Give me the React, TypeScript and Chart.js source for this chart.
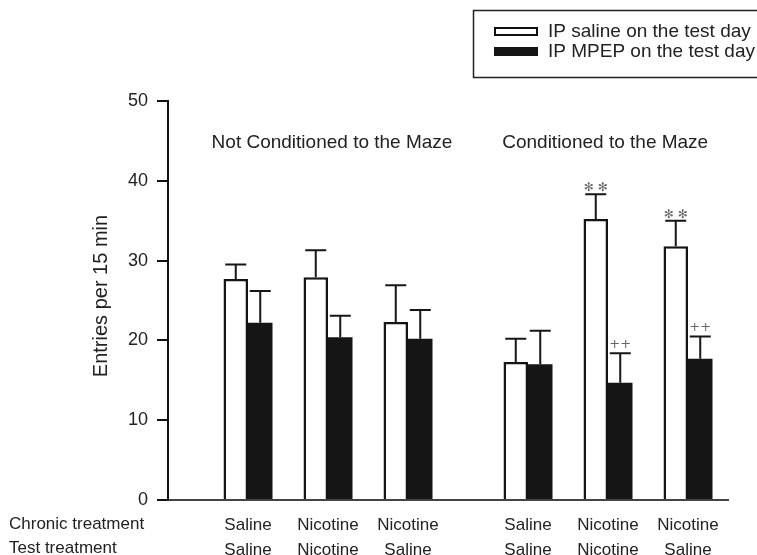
import { useEffect, useRef } from 'react';
import { Chart, registerables } from 'chart.js';

Chart.register(...registerables);

// ---- data ----
const slotCount = 15;
const groupSlots = [2, 4, 6, 9, 11, 13];
const chronicTreatment = ['Saline', 'Nicotine', 'Nicotine', 'Saline', 'Nicotine', 'Nicotine'];
const testTreatment = ['Saline', 'Nicotine', 'Saline', 'Saline', 'Nicotine', 'Saline'];
const salineMeans = [27.7, 27.9, 22.3, 17.3, 35.2, 31.8];
const salineSem = [1.8, 3.4, 4.6, 2.9, 3.1, 3.2];
const mpepMeans = [22.2, 20.4, 20.2, 17.0, 14.7, 17.7];
const mpepSem = [4.0, 2.7, 3.6, 4.2, 3.7, 2.8];
const salineMarks = ['', '', '', '', '**', '**'];
const mpepMarks = ['', '', '', '', '++', '++'];
const seriesNames = ['IP saline on the test day', 'IP MPEP on the test day'];
const panelTitles = ['Not Conditioned to the Maze', 'Conditioned to the Maze'];
const panelTitleSlots = [4.1, 10.93];
const rowTitles = ['Chronic treatment', 'Test treatment'];
const yTitle = 'Entries per 15 min';
const yTicks = { min: 0, max: 50, step: 10 };

const FONT = '"Liberation Sans", Arial, Helvetica, sans-serif';

function spread(values: number[]): (number | null)[] {
  const out: (number | null)[] = Array(slotCount).fill(null);
  groupSlots.forEach((s, i) => { out[s] = values[i]; });
  return out;
}

const labels = Array.from({ length: slotCount }, (_, i) => {
  const g = groupSlots.indexOf(i);
  return g >= 0 ? [chronicTreatment[g], testTreatment[g]] : '';
});

const overlayPlugin = {
  id: 'overlay',
  afterDatasetsDraw(chart: any) {
    const ctx: CanvasRenderingContext2D = chart.ctx;
    const xs = chart.scales.x;
    const ys = chart.scales.y;
    const sets = [
      { means: salineMeans, sem: salineSem, marks: salineMarks },
      { means: mpepMeans, sem: mpepSem, marks: mpepMarks },
    ];
    ctx.save();
    sets.forEach((s, d) => {
      const meta = chart.getDatasetMeta(d);
      groupSlots.forEach((slot, g) => {
        const el = meta.data[slot];
        if (!el) return;
        const x = el.x;
        const yBar = ys.getPixelForValue(s.means[g]);
        const yTop = ys.getPixelForValue(s.means[g] + s.sem[g]);
        ctx.strokeStyle = '#161616';
        ctx.lineWidth = 2;
        ctx.beginPath();
        ctx.moveTo(x, yBar);
        ctx.lineTo(x, yTop);
        ctx.moveTo(x - 10.5, yTop);
        ctx.lineTo(x + 10.5, yTop);
        ctx.stroke();
        const m = s.marks[g];
        if (m) {
          ctx.fillStyle = '#666';
          ctx.textAlign = 'center';
          ctx.textBaseline = 'alphabetic';
          if (m === '**') {
            ctx.font = '12px "DejaVu Sans", sans-serif';
            ctx.fillText('✻ ✻', x, yTop - 3);
          } else {
            ctx.font = '13px "DejaVu Serif", serif';
            ctx.fillText(m, x, yTop - 5);
          }
        }
      });
    });

    // panel titles
    ctx.fillStyle = '#222';
    ctx.font = `19px ${FONT}`;
    ctx.textAlign = 'center';
    ctx.textBaseline = 'middle';
    panelTitles.forEach((t, i) => {
      ctx.fillText(t, xs.getPixelForValue(panelTitleSlots[i]), 143);
    });

    // row titles
    ctx.textAlign = 'left';
    ctx.font = `17px ${FONT}`;
    rowTitles.forEach((t, i) => {
      ctx.fillText(t, 9, 524 + i * 24);
    });

    // y title
    ctx.save();
    ctx.translate(101, 296);
    ctx.rotate(-Math.PI / 2);
    ctx.textAlign = 'center';
    ctx.font = `20px ${FONT}`;
    ctx.fillText(yTitle, 0, 0);
    ctx.restore();

    // legend
    ctx.strokeStyle = '#222';
    ctx.lineWidth = 1.5;
    ctx.strokeRect(473.5, 10.5, 300, 67);
    ctx.fillStyle = '#fff';
    ctx.fillRect(494, 27, 44, 9);
    ctx.strokeStyle = '#111';
    ctx.lineWidth = 2;
    ctx.strokeRect(495, 28, 42, 7);
    ctx.fillStyle = '#151515';
    ctx.fillRect(494, 47, 44, 9);
    ctx.fillStyle = '#222';
    ctx.font = `19px ${FONT}`;
    ctx.textAlign = 'left';
    ctx.textBaseline = 'middle';
    ctx.fillText(seriesNames[0], 548, 32);
    ctx.fillText(seriesNames[1], 548, 52);
    ctx.restore();
  },
};

export default function App() {
  const ref = useRef<HTMLCanvasElement | null>(null);
  useEffect(() => {
    if (!ref.current) return;
    const chart = new Chart(ref.current, {
      type: 'bar',
      data: {
        labels,
        datasets: [
          {
            label: seriesNames[0],
            data: spread(salineMeans),
            backgroundColor: '#ffffff',
            borderColor: '#141414',
            borderWidth: 2.5,
          },
          {
            label: seriesNames[1],
            data: spread(mpepMeans),
            backgroundColor: '#151515',
            borderWidth: 0,
          },
        ],
      },
      options: {
        responsive: false,
        animation: false,
        devicePixelRatio: 1,
        layout: { padding: { top: 101, right: 29, left: 0, bottom: 0 } },
        datasets: { bar: { categoryPercentage: 1.225, barPercentage: 1 } },
        plugins: { legend: { display: false }, tooltip: { enabled: false }, title: { display: false } },
        scales: {
          x: {
            type: 'category',
            offset: false,
            grid: { display: false },
            border: { display: true, color: '#444', width: 2 },
            ticks: {
              autoSkip: false,
              maxRotation: 0,
              minRotation: 0,
              padding: 5,
              color: '#222',
              font: { family: FONT, size: 17, lineHeight: 1.45 },
            },
            afterFit: (s: any) => { s.height = 55; },
          },
          y: {
            min: yTicks.min,
            max: yTicks.max,
            grid: { drawOnChartArea: false, drawTicks: true, tickLength: 11, color: '#111', lineWidth: 2 },
            border: { display: true, color: '#111', width: 2 },
            ticks: {
              stepSize: yTicks.step,
              padding: 9,
              color: '#222',
              font: { family: FONT, size: 18 },
            },
            afterFit: (s: any) => { s.width = 168; },
          },
        },
      },
      plugins: [overlayPlugin],
    } as any);
    return () => chart.destroy();
  }, []);
  return (
    <div style={{ position: 'absolute', left: 0, top: 0, width: 757, height: 555, background: '#fff' }}>
      <canvas ref={ref} width={757} height={555} style={{ display: 'block' }} />
    </div>
  );
}
